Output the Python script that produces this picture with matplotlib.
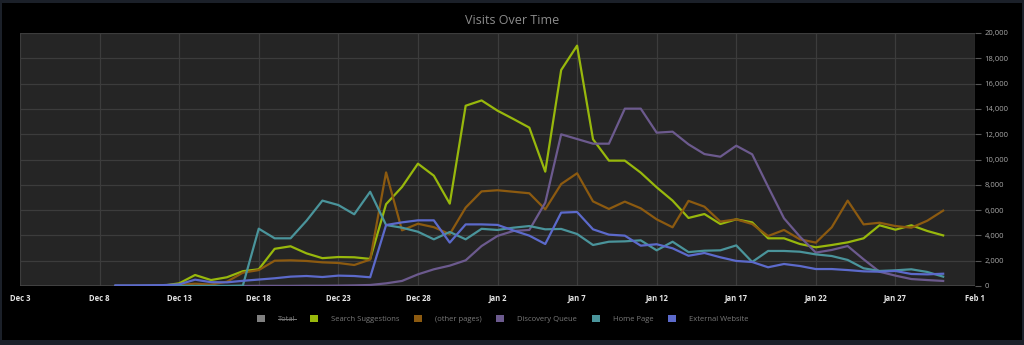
import datetime as dt
import matplotlib
matplotlib.use("Agg")
import matplotlib.pyplot as plt
import matplotlib.dates as mdates
from matplotlib.patches import Patch, Rectangle
from matplotlib.lines import Line2D
from matplotlib.ticker import FuncFormatter, MultipleLocator

plt.rcParams['font.family'] = ['Open Sans', 'DejaVu Sans']

# daily visits, Dec 9 .. Jan 30
start = dt.date(2017, 12, 9)
days = [start + dt.timedelta(days=i) for i in range(53)]

search_suggestions = [
    0, 0, 0, 30, 210, 870, 470, 690, 1170, 1320, 2940, 3140, 2580, 2200, 2290,
    2270, 2140, 6470, 7830, 9670, 8720, 6510, 14250, 14670, 13860, 13200,
    12520, 9040, 17070, 19000, 11600, 9910, 9910, 8960, 7800, 6750, 5380,
    5690, 4900, 5270, 5030, 3770, 3770, 3320, 3060, 3240, 3450, 3770, 4800,
    4450, 4800, 4350, 4000,
]
other_pages = [
    0, 0, 0, 20, 90, 180, 110, 340, 1050, 1260, 2000, 2030, 1980, 1870, 1820,
    1660, 2090, 8980, 4400, 4920, 4650, 4100, 6200, 7480, 7570, 7450, 7330,
    6060, 8060, 8910, 6690, 6090, 6670, 6140, 5270, 4640, 6730, 6270, 5090,
    5270, 4900, 3950, 4430, 3690, 3430, 4640, 6750, 4870, 5000, 4740, 4610,
    5160, 5960,
]
discovery_queue = [
    0, 0, 0, 0, 0, 0, 0, 0, 0, 10, 10, 10, 20, 20, 30, 50, 80, 210, 400, 920,
    1320, 1610, 2030, 3160, 3960, 4350, 4430, 6590, 11990, 11620, 11250,
    11250, 14020, 14020, 12120, 12200, 11200, 10430, 10220, 11090, 10410,
    7850, 5350, 3900, 2640, 2850, 3160, 2110, 1130, 820, 550, 470, 400,
]
home_page = [
    0, 0, 0, 0, 0, 0, 0, 0, 30, 4530, 3770, 3770, 5160, 6750, 6400, 5670,
    7450, 4820, 4610, 4290, 3690, 4270, 3690, 4520, 4430, 4610, 4740, 4480,
    4510, 4110, 3240, 3500, 3530, 3610, 2820, 3500, 2680, 2790, 2820, 3210,
    1900, 2770, 2770, 2710, 2500, 2370, 2060, 1400, 1190, 1240, 1320, 1110,
    740,
]
external_website = [
    50, 50, 60, 70, 130, 500, 300, 290, 410, 510, 610, 740, 790, 710, 820,
    790, 690, 4820, 5030, 5190, 5190, 3430, 4870, 4870, 4830, 4390, 3980,
    3320, 5800, 5850, 4480, 4060, 3980, 3190, 3300, 2980, 2390, 2610, 2270,
    1980, 1900, 1480, 1740, 1580, 1340, 1340, 1260, 1160, 1130, 1190, 950,
    920, 970,
]

series = [
    ("Search Suggestions", search_suggestions, "#98b80c"),
    ("(other pages)", other_pages, "#8c5a10"),
    ("Discovery Queue", discovery_queue, "#6c5a8e"),
    ("Home Page", home_page, "#4a949b"),
    ("External Website", external_website, "#5c6acb"),
]

fig = plt.figure(figsize=(10.24, 3.45), dpi=100, facecolor="#1b2029")
fig.patches.append(Rectangle((2 / 1024, 5 / 345), 1020 / 1024, 337 / 345,
                             transform=fig.transFigure, facecolor="black",
                             edgecolor="none", zorder=-5))

ax = fig.add_axes([20 / 1024, 1 - 286 / 345, 955 / 1024, 253 / 345])
ax.set_zorder(2)
ax.set_facecolor("#252525")

for name, vals, col in series:
    ax.plot(days, vals, color=col, lw=1.6, label=name, zorder=3)

ax.set_xlim(dt.date(2017, 12, 3), dt.date(2018, 2, 1))
ax.set_ylim(0, 20000)
ticks = [dt.date(2017, 12, 3) + dt.timedelta(days=5 * i) for i in range(13)]
ax.set_xticks(ticks)
ax.set_xticklabels([f"{d:%b} {d.day}" for d in ticks])
ax.yaxis.set_major_locator(MultipleLocator(2000))
ax.yaxis.set_major_formatter(FuncFormatter(lambda v, p: f"{int(v):,}"))
ax.yaxis.tick_right()

ax.grid(True, color="#3c3c3c", lw=0.9)
ax.set_axisbelow(True)
for s in ax.spines.values():
    s.set_visible(False)
ax.axhline(0, color="#474747", lw=1.2, zorder=2)

ax.tick_params(axis="x", length=0, pad=6, labelsize=5.5, labelcolor="#e6e6e6")
for t in ax.get_xticklabels():
    t.set_fontweight("bold")
ax.tick_params(axis="y", length=4, width=0.8, color="#555555", pad=3,
               labelsize=5.5, labelcolor="#a8a8a8")

fig.text(0.5, 1 - 20 / 345, "Visits Over Time", ha="center", va="center",
         color="#8c8c8c", fontsize=9)

handles = [Patch(facecolor="#808080", edgecolor="none", label="Total")]
handles += [Patch(facecolor=c, edgecolor="none", label=n) for n, _, c in series]
leg = fig.legend(handles=handles, loc="center", bbox_to_anchor=(0.491, 1 - 319 / 345),
                 ncol=6, frameon=False, fontsize=5.5, labelcolor="#7a7a7a",
                 handlelength=1.05, handleheight=1.05, handletextpad=1.7,
                 columnspacing=1.9)

# strike through the hidden "Total" entry
fig.canvas.draw()
bb = leg.get_texts()[0].get_window_extent()
ymid = bb.y0 + 0.62 * (bb.y1 - bb.y0)
fig.add_artist(Line2D([bb.x0 / 1024, bb.x1 / 1024], [ymid / 345, ymid / 345],
                      transform=fig.transFigure, color="#7a7a7a", lw=0.7))

fig.savefig("out.png", dpi=100, facecolor=fig.get_facecolor())
